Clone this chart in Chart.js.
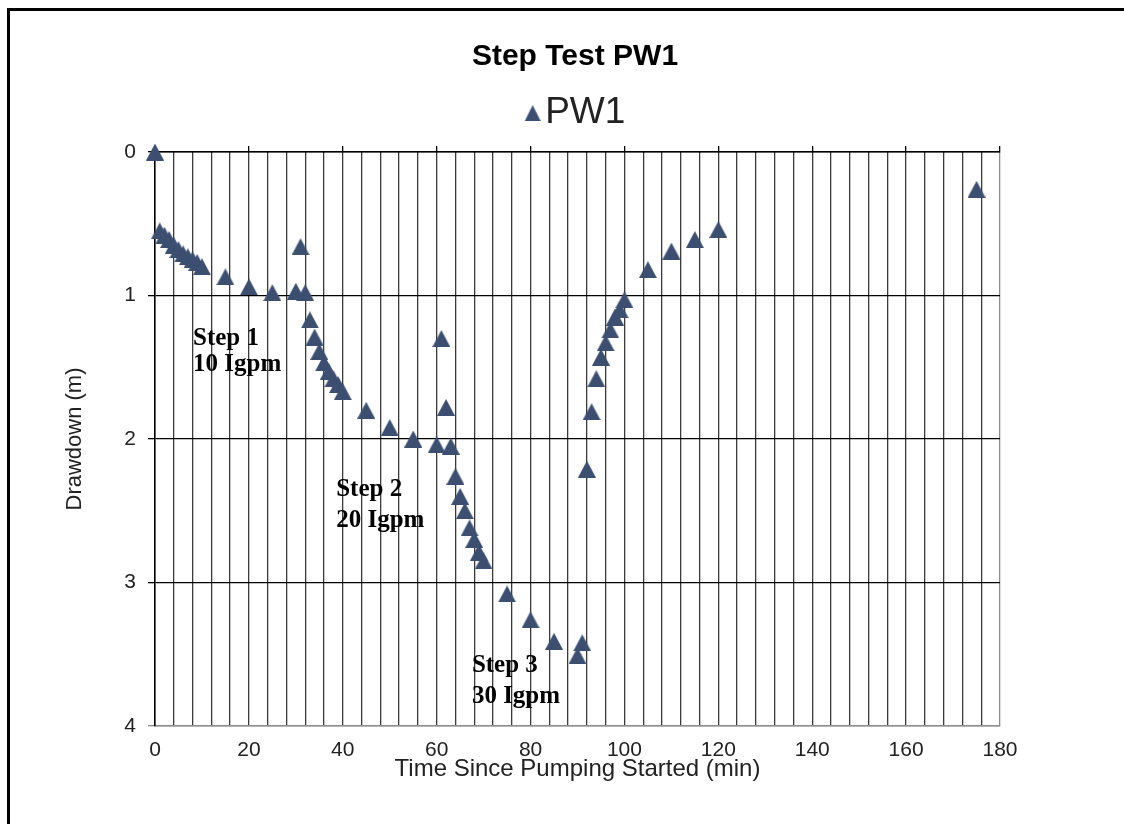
<!DOCTYPE html>
<html>
<head>
<meta charset="utf-8">
<title>Step Test PW1</title>
<script src="https://cdn.jsdelivr.net/npm/chart.js@4.4.1/dist/chart.umd.min.js"></script>
<style>
  html, body { margin: 0; padding: 0; background: #fff; overflow: hidden; }
  #wrap { position: relative; width: 1124px; height: 824px; }
  #frame {
    position: absolute; left: 7px; top: 8px; right: -10px; bottom: -10px;
    border-top: 3px solid #000; border-left: 3px solid #000; pointer-events: none;
  }
  canvas { display: block; }
</style>
</head>
<body>
<div id="wrap">
  <canvas id="chart" width="1124" height="824"></canvas>
  <div id="frame"></div>
</div>
<script>
// time since pumping started (min) and drawdown (m)
const timeMin = [
  0, 1, 2, 3, 4, 5, 6, 7, 8, 9, 10, 15, 20, 25, 30, 31, 32,
  33, 34, 35, 36, 37, 38, 39, 40, 45, 50, 55, 60, 61, 62, 63,
  64, 65, 66, 67, 68, 69, 70, 75, 80, 85, 90, 91,
  92, 93, 94, 95, 96, 97, 98, 99, 100, 105, 110, 115, 120, 175
];
const drawdownM = [
  0, 0.55, 0.58, 0.61, 0.65, 0.68, 0.71, 0.73, 0.75, 0.77, 0.80, 0.87, 0.94, 0.98, 0.97, 0.66, 0.98,
  1.17, 1.29, 1.39, 1.47, 1.53, 1.58, 1.62, 1.67, 1.80, 1.92, 2.00, 2.04, 1.30, 1.78, 2.05,
  2.26, 2.40, 2.50, 2.62, 2.70, 2.79, 2.85, 3.08, 3.26, 3.41, 3.51, 3.42,
  2.21, 1.81, 1.58, 1.43, 1.33, 1.24, 1.15, 1.10, 1.03, 0.82, 0.69, 0.61, 0.54, 0.26
];

// step annotations (text, x in min, baseline of each line in m)
const stepText = [["Step 1", "10 Igpm"], ["Step 2", "20 Igpm"], ["Step 3", "30 Igpm"]];
const stepX = [8.1, 38.6, 67.5];
const stepY1 = [1.348, 2.394, 3.627];
const stepY2 = [1.523, 2.61, 3.843];

const sans = "'Liberation Sans', Arial, sans-serif";
const markerColor = "#3c4f71";

function makeTriangle(w, h, shift) {
  const cv = document.createElement("canvas");
  cv.width = w + Math.abs(shift) * 2;
  cv.height = h;
  const g = cv.getContext("2d");
  const cx = cv.width / 2 + shift;
  g.fillStyle = markerColor;
  g.beginPath();
  g.moveTo(cx, 0);
  g.lineTo(cx + w / 2, h);
  g.lineTo(cx - w / 2, h);
  g.closePath();
  g.fill();
  return cv;
}

const tri = makeTriangle(18, 17, 0);
const legendTri = makeTriangle(16, 16, 7);

const stepNotes = {
  id: "stepNotes",
  afterDraw(c) {
    const { ctx } = c;
    const x = c.scales.x;
    const y = c.scales.y;
    ctx.save();
    ctx.font = "bold 25px 'Liberation Serif', 'Times New Roman', serif";
    ctx.fillStyle = "#000";
    ctx.textBaseline = "alphabetic";
    ctx.textAlign = "left";
    stepText.forEach((lines, i) => {
      const px = x.getPixelForValue(stepX[i]);
      ctx.fillText(lines[0], px, y.getPixelForValue(stepY1[i]));
      ctx.fillText(lines[1], px, y.getPixelForValue(stepY2[i]));
    });
    ctx.restore();
  },
};

new Chart(document.getElementById("chart"), {
  type: "scatter",
  data: {
    datasets: [
      {
        label: "PW1",
        data: timeMin.map((t, i) => ({ x: t, y: drawdownM[i] })),
        pointStyle: tri,
        pointRadius: 8,
        backgroundColor: markerColor,
        borderColor: markerColor,
        clip: false,
        xAxisID: "x",
        yAxisID: "y",
      },
    ],
  },
  options: {
    responsive: false,
    animation: false,
    layout: { padding: { top: 0, left: 30, right: 4, bottom: 0 } },
    plugins: {
      tooltip: { enabled: false },
      title: {
        display: true,
        text: "Step Test PW1",
        color: "#000",
        font: { family: sans, size: 30, weight: "bold" },
        padding: { top: 39, bottom: 9.6 },
      },
      legend: {
        display: true,
        labels: {
          usePointStyle: true,
          pointStyle: legendTri,
          pointStyleWidth: 2,
          padding: 10,
          color: "#222",
          font: { family: sans, size: 37 },
        },
      },
    },
    scales: {
      x: {
        type: "linear",
        position: "bottom",
        min: 0,
        max: 180,
        ticks: {
          stepSize: 4,
          autoSkip: false,
          maxRotation: 0,
          padding: 12,
          color: "#222",
          font: { family: sans, size: 21 },
          callback: (v) => (v % 20 === 0 ? v : ""),
        },
        grid: {
          drawTicks: false,
          lineWidth: 1.3,
          color: (ctx) => (ctx.tick && ctx.tick.value === 180 ? "#8c8c8c" : "#3a3a3a"),
        },
        border: { color: "#8c8c8c", width: 1.5 },
        title: {
          display: true,
          text: "Time Since Pumping Started (min)",
          color: "#222",
          font: { family: sans, size: 24 },
          padding: { top: 0, bottom: 40 },
        },
        afterFit: (s) => {
          s.height = 98;
        },
      },
      x2: {
        type: "linear",
        position: "top",
        min: 0,
        max: 180,
        ticks: { display: false, stepSize: 20 },
        grid: { drawOnChartArea: false, drawTicks: true, tickLength: 6, color: "#000", lineWidth: 1.3 },
        border: { color: "#000", width: 1.5 },
        afterFit: (s) => {
          s.height = 10.4;
        },
      },
      y: {
        type: "linear",
        position: "left",
        reverse: true,
        min: 0,
        max: 4,
        ticks: {
          stepSize: 1,
          padding: 12,
          color: "#222",
          font: { family: sans, size: 21 },
        },
        grid: {
          tickLength: 7,
          lineWidth: 1.3,
          color: (ctx) => (ctx.tick && ctx.tick.value === 4 ? "#8c8c8c" : "#000"),
        },
        border: { color: "#000", width: 1.5 },
        title: {
          display: true,
          text: "Drawdown (m)",
          color: "#222",
          font: { family: sans, size: 22 },
          padding: { top: 32, bottom: 0 },
        },
        afterFit: (s) => {
          s.width = 125;
        },
      },
      y2: {
        type: "linear",
        position: "right",
        min: 0,
        max: 4,
        ticks: { display: false },
        grid: { display: false },
        border: { display: false },
        afterFit: (s) => {
          s.width = 120;
        },
      },
    },
  },
  plugins: [stepNotes],
});
</script>
</body>
</html>
